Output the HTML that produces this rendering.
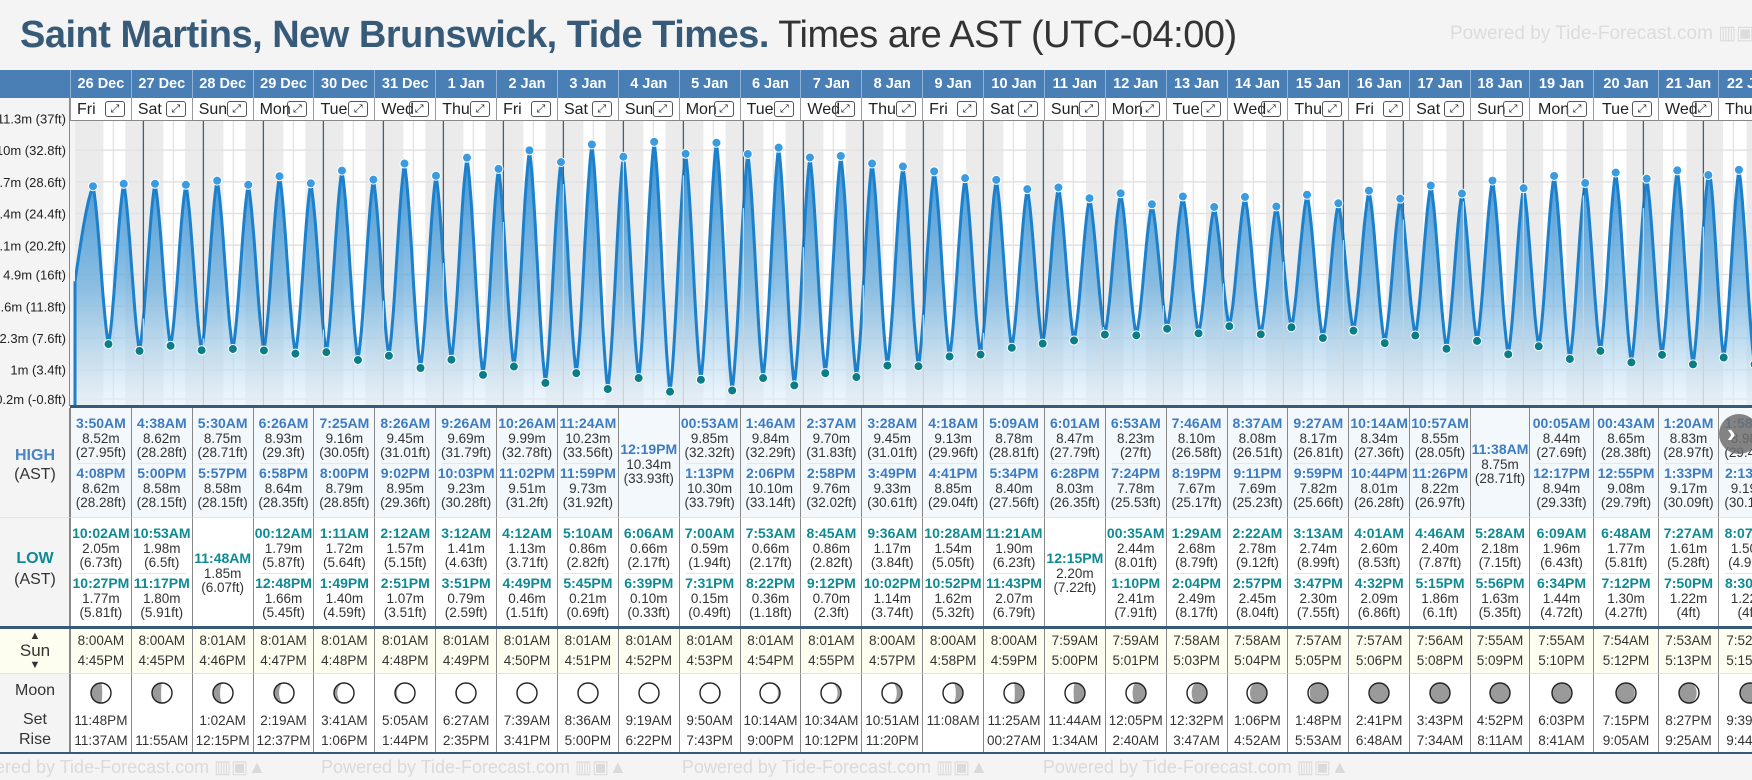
<!DOCTYPE html>
<html><head><meta charset="utf-8">
<style>
*{box-sizing:border-box;margin:0;padding:0}
body{width:1752px;height:780px;overflow:hidden;background:#f4f4f4;font-family:"Liberation Sans",Arial,sans-serif;position:relative;color:#222}
.abs{position:absolute}
#title{left:20px;top:14px;font-size:38px;white-space:nowrap;letter-spacing:-0.5px}
#title b{color:#365a78}
#title span{color:#333}
#pw{left:1450px;top:22px;font-size:19px;color:#dcdcdc;white-space:nowrap}
.hd{top:70px;height:28px;background:#4a7fb5;color:#fff;font-weight:bold;font-size:14.5px;text-align:center;line-height:28px;border-left:1px solid #8fb2d6;white-space:nowrap;overflow:hidden}
.dn{top:98px;height:23px;background:#fff;font-size:16px;line-height:23px;border-left:1px solid #999;white-space:nowrap;overflow:hidden;border-bottom:1px solid #888}
.dn .ex{position:absolute;right:6px;top:3px;width:20px;height:16px;border:1px solid #555;border-radius:3px;font-size:11px;line-height:14px;text-align:center;font-family:"DejaVu Sans",sans-serif}
.cell{border-left:1px solid #888;text-align:center;font-size:13.5px;color:#333;overflow:hidden}
.t{font-weight:bold;font-size:14px}
.ln{position:absolute;left:0;right:0;text-align:center;line-height:15px;white-space:nowrap}
.lab{left:0;width:70px;text-align:center;font-size:16px;color:#333}
</style></head><body>
<div id="title" class="abs"><b>Saint Martins, New Brunswick, Tide Times.</b> <span>Times are AST (UTC-04:00)</span></div>
<div id="pw" class="abs">Powered by Tide-Forecast.com ▥▣▲</div>
<div class="abs" style="left:0;top:70px;width:70px;height:28px;background:#4a7fb5"></div>
<div class="abs" style="left:0;top:98px;width:70px;height:308px;background:#f4f4f4;border-right:1px solid #888"></div>
<svg id="chart" class="abs" style="left:0;top:0" width="1752" height="780"></svg>
<div id="tbl" class="abs" style="left:0;top:0;width:1752px;height:780px"></div>
<script>
const days=['26 Dec','27 Dec','28 Dec','29 Dec','30 Dec','31 Dec','1 Jan','2 Jan','3 Jan','4 Jan','5 Jan','6 Jan','7 Jan','8 Jan','9 Jan','10 Jan','11 Jan','12 Jan','13 Jan','14 Jan','15 Jan','16 Jan','17 Jan','18 Jan','19 Jan','20 Jan','21 Jan','22 Jan'];
const dows=['Fri','Sat','Sun','Mon','Tue','Wed','Thu'];
const highT=[["3:50AM","4:08PM"],["4:38AM","5:00PM"],["5:30AM","5:57PM"],["6:26AM","6:58PM"],["7:25AM","8:00PM"],["8:26AM","9:02PM"],["9:26AM","10:03PM"],["10:26AM","11:02PM"],["11:24AM","11:59PM"],["12:19PM"],["00:53AM","1:13PM"],["1:46AM","2:06PM"],["2:37AM","2:58PM"],["3:28AM","3:49PM"],["4:18AM","4:41PM"],["5:09AM","5:34PM"],["6:01AM","6:28PM"],["6:53AM","7:24PM"],["7:46AM","8:19PM"],["8:37AM","9:11PM"],["9:27AM","9:59PM"],["10:14AM","10:44PM"],["10:57AM","11:26PM"],["11:38AM"],["00:05AM","12:17PM"],["00:43AM","12:55PM"],["1:20AM","1:33PM"],["1:58AM","2:13PM"]];
const highM=[[8.52,8.62],[8.62,8.58],[8.75,8.58],[8.93,8.64],[9.16,8.79],[9.45,8.95],[9.69,9.23],[9.99,9.51],[10.23,9.73],[10.34],[9.85,10.30],[9.84,10.10],[9.70,9.76],[9.45,9.33],[9.13,8.85],[8.78,8.40],[8.47,8.03],[8.23,7.78],[8.10,7.67],[8.08,7.69],[8.17,7.82],[8.34,8.01],[8.55,8.22],[8.75],[8.44,8.94],[8.65,9.08],[8.83,9.17],[8.98,9.19]];
const highF=[["27.95ft","28.28ft"],["28.28ft","28.15ft"],["28.71ft","28.15ft"],["29.3ft","28.35ft"],["30.05ft","28.85ft"],["31.01ft","29.36ft"],["31.79ft","30.28ft"],["32.78ft","31.2ft"],["33.56ft","31.92ft"],["33.93ft"],["32.32ft","33.79ft"],["32.29ft","33.14ft"],["31.83ft","32.02ft"],["31.01ft","30.61ft"],["29.96ft","29.04ft"],["28.81ft","27.56ft"],["27.79ft","26.35ft"],["27ft","25.53ft"],["26.58ft","25.17ft"],["26.51ft","25.23ft"],["26.81ft","25.66ft"],["27.36ft","26.28ft"],["28.05ft","26.97ft"],["28.71ft"],["27.69ft","29.33ft"],["28.38ft","29.79ft"],["28.97ft","30.09ft"],["29.46ft","30.15ft"]];
const lowT=[["10:02AM","10:27PM"],["10:53AM","11:17PM"],["11:48AM"],["00:12AM","12:48PM"],["1:11AM","1:49PM"],["2:12AM","2:51PM"],["3:12AM","3:51PM"],["4:12AM","4:49PM"],["5:10AM","5:45PM"],["6:06AM","6:39PM"],["7:00AM","7:31PM"],["7:53AM","8:22PM"],["8:45AM","9:12PM"],["9:36AM","10:02PM"],["10:28AM","10:52PM"],["11:21AM","11:43PM"],["12:15PM"],["00:35AM","1:10PM"],["1:29AM","2:04PM"],["2:22AM","2:57PM"],["3:13AM","3:47PM"],["4:01AM","4:32PM"],["4:46AM","5:15PM"],["5:28AM","5:56PM"],["6:09AM","6:34PM"],["6:48AM","7:12PM"],["7:27AM","7:50PM"],["8:07AM","8:30PM"]];
const lowM=[[2.05,1.77],[1.98,1.80],[1.85],[1.79,1.66],[1.72,1.40],[1.57,1.07],[1.41,0.79],[1.13,0.46],[0.86,0.21],[0.66,0.10],[0.59,0.15],[0.66,0.36],[0.86,0.70],[1.17,1.14],[1.54,1.62],[1.90,2.07],[2.20],[2.44,2.41],[2.68,2.49],[2.78,2.45],[2.74,2.30],[2.60,2.09],[2.40,1.86],[2.18,1.63],[1.96,1.44],[1.77,1.30],[1.61,1.22],[1.50,1.22]];
const lowF=[["6.73ft","5.81ft"],["6.5ft","5.91ft"],["6.07ft"],["5.87ft","5.45ft"],["5.64ft","4.59ft"],["5.15ft","3.51ft"],["4.63ft","2.59ft"],["3.71ft","1.51ft"],["2.82ft","0.69ft"],["2.17ft","0.33ft"],["1.94ft","0.49ft"],["2.17ft","1.18ft"],["2.82ft","2.3ft"],["3.84ft","3.74ft"],["5.05ft","5.32ft"],["6.23ft","6.79ft"],["7.22ft"],["8.01ft","7.91ft"],["8.79ft","8.17ft"],["9.12ft","8.04ft"],["8.99ft","7.55ft"],["8.53ft","6.86ft"],["7.87ft","6.1ft"],["7.15ft","5.35ft"],["6.43ft","4.72ft"],["5.81ft","4.27ft"],["5.28ft","4ft"],["4.92ft","4ft"]];
const sunrise=["8:00AM","8:00AM","8:01AM","8:01AM","8:01AM","8:01AM","8:01AM","8:01AM","8:01AM","8:01AM","8:01AM","8:01AM","8:01AM","8:00AM","8:00AM","8:00AM","7:59AM","7:59AM","7:58AM","7:58AM","7:57AM","7:57AM","7:56AM","7:55AM","7:55AM","7:54AM","7:53AM","7:52AM"];
const sunset=["4:45PM","4:45PM","4:46PM","4:47PM","4:48PM","4:48PM","4:49PM","4:50PM","4:51PM","4:52PM","4:53PM","4:54PM","4:55PM","4:57PM","4:58PM","4:59PM","5:00PM","5:01PM","5:03PM","5:04PM","5:05PM","5:06PM","5:08PM","5:09PM","5:10PM","5:12PM","5:13PM","5:15PM"];
const moonSet=["11:48PM","","1:02AM","2:19AM","3:41AM","5:05AM","6:27AM","7:39AM","8:36AM","9:19AM","9:50AM","10:14AM","10:34AM","10:51AM","11:08AM","11:25AM","11:44AM","12:05PM","12:32PM","1:06PM","1:48PM","2:41PM","3:43PM","4:52PM","6:03PM","7:15PM","8:27PM","9:39PM"];
const moonRise=["11:37AM","11:55AM","12:15PM","12:37PM","1:06PM","1:44PM","2:35PM","3:41PM","5:00PM","6:22PM","7:43PM","9:00PM","10:12PM","11:20PM","","00:27AM","1:34AM","2:40AM","3:47AM","4:52AM","5:53AM","6:48AM","7:34AM","8:11AM","8:41AM","9:05AM","9:25AM","9:44AM"];
const tickM=[11.3,10,8.7,7.4,6.1,4.9,3.6,2.3,1,-0.2];
const tickLbl=["11.3m (37ft)","10m (32.8ft)","8.7m (28.6ft)","7.4m (24.4ft)","6.1m (20.2ft)","4.9m (16ft)","3.6m (11.8ft)","2.3m (7.6ft)","1m (3.4ft)","-0.2m (-0.8ft)"];
const extraBefore=[-9.0,1.8];
const extraAfter=[650.6,9.0];

const NS='http://www.w3.org/2000/svg';
const svg=document.getElementById('chart');
const tbl=document.getElementById('tbl');
const X0=83.4,PXH=2.5,CT=121,CB=406,CL=70;
function xT(t){return X0+t*PXH;}
function yV(v){return 399-(v+0.2)*24.4;}
function parse(s){const m=s.match(/(\d+):(\d+)(AM|PM)/);let h=(+m[1])%12;if(m[3]=='PM')h+=12;return h+(+m[2])/60;}
function se(tag,attrs,parent){const e=document.createElementNS(NS,tag);for(const k in attrs)e.setAttribute(k,attrs[k]);(parent||svg).appendChild(e);return e;}
function ease(f){return 0.45*f+0.55*(1-Math.cos(Math.PI*f))/2;}
const widths=[];for(let i=0;i<23;i++)widths.push(1400/23);widths.push(59,64,65,60,62);
const edges=[70];for(const w of widths)edges.push(edges[edges.length-1]+w);

const clip=se('clipPath',{id:'cp'});se('rect',{x:CL+5,y:CT,width:1752-CL,height:CB-CT},clip);
const g=se('g',{'clip-path':'url(#cp)'});
let bg=se('rect',{x:CL,y:CT,width:1752-CL,height:CB-CT,fill:'#ebebeb'},g);


days.forEach((d,i)=>{
  const a=xT(i*24+parse(sunrise[i])),b=xT(i*24+parse(sunset[i]));
  const r=se('rect',{x:a,y:CT,width:b-a,height:CB-CT,fill:'#ffffff'},g);
  
  
});
tickM.forEach(v=>{const l=se('line',{x1:CL,x2:1752,y1:yV(v),y2:yV(v),stroke:'#e2e2e2','stroke-width':1.5},g);
  
  });
for(let i=0;i<=28;i++){const x=xT(i*24+12);const l=se('line',{x1:x,x2:x,y1:CT,y2:CB,stroke:'#e4e4e4','stroke-width':1.5},g);
  
  }
const ext=[{t:extraBefore[0],v:extraBefore[1],h:0,hidden:1}];
days.forEach((d,i)=>{highT[i].forEach((s,j)=>ext.push({t:i*24+parse(s),v:highM[i][j],h:1}));lowT[i].forEach((s,j)=>ext.push({t:i*24+parse(s),v:lowM[i][j],h:0}));});
ext.push({t:extraAfter[0],v:extraAfter[1],h:1,hidden:1});
ext.sort((a,b)=>a.t-b.t);
function level(t){for(let k=0;k<ext.length-1;k++){const a=ext[k],b=ext[k+1];if(t>=a.t&&t<=b.t){const f=(t-a.t)/(b.t-a.t);return a.v+(b.v-a.v)*ease(f);}}return ext[ext.length-1].v;}
let pts=[];
for(let k=0;k<ext.length-1;k++){const a=ext[k],b=ext[k+1];for(let s=0;s<14;s++){const f=s/14;pts.push([xT(a.t+(b.t-a.t)*f),yV(a.v+(b.v-a.v)*ease(f))]);}}
const last=ext[ext.length-1];pts.push([xT(last.t),yV(last.v)]);
const defs=se('defs',{});const gr=se('linearGradient',{id:'gf',x1:0,y1:0,x2:0,y2:1},defs);
se('stop',{offset:'0%','stop-color':'#2b8ad3','stop-opacity':0.95},gr);se('stop',{offset:'55%','stop-color':'#6aaede','stop-opacity':0.75},gr);se('stop',{offset:'100%','stop-color':'#e8f3fb','stop-opacity':0.6},gr);
const lineD='M'+pts.map(p=>p[0].toFixed(1)+','+p[1].toFixed(1)).join('L');
const area=se('path',{d:lineD+`L${pts[pts.length-1][0]},${CB}L${pts[0][0]},${CB}Z`,fill:'url(#gf)'},g);


const tl=se('path',{d:lineD,fill:'none',stroke:'#1c80cb','stroke-width':3,'stroke-linejoin':'round'},g);


const sx=CL+5;
const st=se('line',{x1:sx,x2:sx,y1:yV(level((sx-X0)/PXH)),y2:CB,stroke:'#1c80cb','stroke-width':3});


for(let i=1;i<=28;i++){const x=xT(i*24);
  const l=se('line',{x1:x,x2:x,y1:CT,y2:CB,stroke:'#d0d0d0','stroke-width':1.2},g);
  
  
  const m=se('line',{x1:x,x2:x,y1:CT,y2:yV(level(i*24)),stroke:'#45607d','stroke-width':1.3},g);
  
  }
ext.forEach(e=>{if(e.hidden)return;const c=se('circle',{cx:xT(e.t),cy:yV(e.v),r:4.5,fill:e.h?'#3a9be0':'#0a7d86',stroke:'#fff','stroke-width':1},g);
  
  });
const bl=se('rect',{x:CL,y:CB-1,width:1752-CL,height:3,fill:'#365a78'});


tickM.forEach((v,i)=>{const t=se('text',{x:66,y:yV(v)+5,'text-anchor':'end','font-size':13,fill:'#222','font-family':'Liberation Sans, sans-serif'});t.textContent=tickLbl[i];
  
  });

function div(cls,style,html,parent){const e=document.createElement('div');e.className=cls;e.style.cssText=style;if(html!==undefined)e.innerHTML=html;(parent||tbl).appendChild(e);return e;}
function lines(parent,top,arr,color,tcls){arr.forEach((s,k)=>{const e=div('ln'+(k==0&&tcls?' t':''),`top:${top+k*14.5}px;`+(k==0&&color?`color:${color}`:''),s,parent);
  
  });}
let e;
e=div('abs','left:0;top:408px;width:70px;height:109px;background:#f4f4f4;border-right:1px solid #888');


e=div('abs lab','top:447px;font-weight:bold;color:#4a84c4;font-size:16px','HIGH');


e=div('abs lab','top:466px','(AST)');


e=div('abs','left:0;top:517px;width:70px;height:109px;background:#f4f4f4;border-right:1px solid #888;border-top:1px solid #e4e4e4');


e=div('abs lab','top:550px;font-weight:bold;color:#0e8a93','LOW');


e=div('abs lab','top:571px','(AST)');


e=div('abs','left:0;top:626px;width:1752px;height:3px;background:#365a78');


e=div('abs','left:0;top:629px;width:70px;height:44px;background:#fefef0;border-right:1px solid #888');


e=div('abs lab','top:630px;font-size:11px;line-height:12px','▲<br><span style="font-size:17px;line-height:17px">Sun</span><br>▼');


e=div('abs','left:0;top:673px;width:70px;height:79px;background:#f4f4f4;border-right:1px solid #888;border-top:1px solid #e4e4e4');


e=div('abs lab','top:682px;font-size:16px','Moon');


e=div('abs lab','top:711px','Set');


e=div('abs lab','top:731px','Rise');


e=div('abs','left:0;top:752px;width:1752px;height:2px;background:#365a78');


e=div('abs','left:0;top:754px;width:1752px;height:26px;overflow:hidden;white-space:nowrap;color:#dadada;font-size:18px;line-height:26px;text-indent:-40px','Powered by Tide-Forecast.com ▥▣▲ &nbsp;&nbsp;&nbsp;&nbsp;&nbsp;&nbsp;&nbsp;&nbsp;&nbsp; Powered by Tide-Forecast.com ▥▣▲ &nbsp;&nbsp;&nbsp;&nbsp;&nbsp;&nbsp;&nbsp;&nbsp;&nbsp; Powered by Tide-Forecast.com ▥▣▲ &nbsp;&nbsp;&nbsp;&nbsp;&nbsp;&nbsp;&nbsp;&nbsp;&nbsp; Powered by Tide-Forecast.com ▥▣▲');



function moonSVG(p){const r=10,cx=12,cy=12;const k=Math.abs(r*Math.cos(2*Math.PI*p));const cres=Math.cos(2*Math.PI*p)>0;let d;
 if(p<0.5){d=`M${cx},${cy-r}A${r},${r} 0 0 1 ${cx},${cy+r}A${k},${r} 0 0 ${cres?0:1} ${cx},${cy-r}Z`;}
 else{d=`M${cx},${cy-r}A${r},${r} 0 0 0 ${cx},${cy+r}A${k},${r} 0 0 ${cres?1:0} ${cx},${cy-r}Z`;}
 return `<svg width="24" height="24"><circle cx="12" cy="12" r="10" fill="#9a9a9a"/><path d="${d}" fill="#fff"/><circle cx="12" cy="12" r="10" fill="none" stroke="#222" stroke-width="1.4"/></svg>`;}

days.forEach((d,i)=>{
  const L=edges[i],W=widths[i];
  let h=div('abs hd',`left:${L}px;width:${W}px`,d);
  
  
  let n=div('abs dn',`left:${L}px;width:${W}px`,`<span style="position:absolute;left:${W>62?8:6}px">${dows[i%7]}</span><span class="ex">⤢</span>`);
  
  
  let c=div('abs cell',`left:${L}px;top:408px;width:${W}px;height:109px;background:#f3f8fd`);
  
  
  if(highT[i].length==2){lines(c,8,[highT[i][0],highM[i][0].toFixed(2)+'m','('+highF[i][0]+')'],'#3d7cc0',1);
    div('','position:absolute;left:6px;right:6px;top:55px;border-top:1px solid #e4e8ec','',c);
    lines(c,58,[highT[i][1],highM[i][1].toFixed(2)+'m','('+highF[i][1]+')'],'#3d7cc0',1);}
  else lines(c,34,[highT[i][0],highM[i][0].toFixed(2)+'m','('+highF[i][0]+')'],'#3d7cc0',1);
  c=div('abs cell',`left:${L}px;top:517px;width:${W}px;height:109px;background:#fff;border-top:1px solid #e4e4e4`);
  
  
  if(lowT[i].length==2){lines(c,8,[lowT[i][0],lowM[i][0].toFixed(2)+'m','('+lowF[i][0]+')'],'#0e8a93',1);
    div('','position:absolute;left:6px;right:6px;top:55px;border-top:1px solid #e4e4e4','',c);
    lines(c,58,[lowT[i][1],lowM[i][1].toFixed(2)+'m','('+lowF[i][1]+')'],'#0e8a93',1);}
  else lines(c,33,[lowT[i][0],lowM[i][0].toFixed(2)+'m','('+lowF[i][0]+')'],'#0e8a93',1);
  c=div('abs cell',`left:${L}px;top:629px;width:${W}px;height:44px;background:#fefef0`);
  
  
  lines(c,4,[sunrise[i]],null,0);lines(c,24,[sunset[i]],null,0);
  c=div('abs cell',`left:${L}px;top:673px;width:${W}px;height:79px;background:#fff;border-top:1px solid #e4e4e4`);
  
  
  const p=(((i+6.8)/29.53)%1+1)%1;
  let mi=div('','position:absolute;left:50%;top:7px;margin-left:-12px;width:24px;height:24px',moonSVG(p),c);
  
  
  lines(c,39,[moonSet[i]],null,0);lines(c,59,[moonRise[i]],null,0);
});
e=div('abs','left:1719px;top:414px;width:40px;height:40px;border-radius:50%;background:rgba(110,110,110,0.85);color:#fff;font-size:26px;line-height:38px;text-indent:8px;font-weight:bold','›');


</script>
</body></html>
